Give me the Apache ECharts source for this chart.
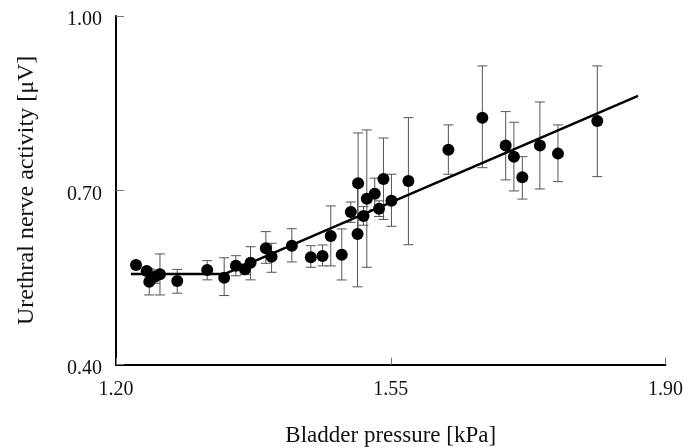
<!DOCTYPE html>
<html><head><meta charset="utf-8">
<script src="https://cdn.jsdelivr.net/npm/echarts@6/dist/echarts.min.js"></script>
<style>html,body{margin:0;padding:0;background:#fff}#c{width:699px;height:447px}</style>
</head><body><div id="c"></div>
<script>
// Bladder pressure [kPa]
var pressure = [1.2255,1.2391,1.2424,1.2496,1.2560,1.2780,1.3162,1.3378,1.3527,1.3642,1.3714,1.3909,1.3982,1.4240,1.4482,1.4631,1.4736,1.4876,1.4991,1.5084,1.5077,1.5153,1.5195,1.5296,1.5351,1.5407,1.5509,1.5725,1.6234,1.6667,1.6964,1.7069,1.7176,1.7400,1.7630,1.8131];
// Urethral nerve activity mean [uV]
var activity = [0.5716,0.5613,0.5429,0.5515,0.5556,0.5441,0.5630,0.5497,0.5704,0.5642,0.5756,0.6003,0.5859,0.6048,0.5849,0.5871,0.6215,0.5893,0.6628,0.7122,0.6248,0.6560,0.6857,0.6943,0.6685,0.7196,0.6823,0.7162,0.7700,0.8251,0.7770,0.7580,0.7225,0.7770,0.7632,0.8195];
// error bar lower / upper ends
var errLow  = [0.5666,0.5563,0.5200,0.5400,0.5200,0.5230,0.5460,0.5190,0.5530,0.5550,0.5460,0.5745,0.5590,0.5768,0.5676,0.5700,0.5700,0.5458,0.6450,0.6260,0.5340,0.6400,0.5676,0.6670,0.6550,0.6500,0.6382,0.6065,0.7277,0.7390,0.7180,0.6990,0.6850,0.7024,0.7150,0.7236];
var errHigh = [0.5766,0.5663,0.5650,0.5630,0.5906,0.5640,0.5790,0.5840,0.5876,0.5730,0.6030,0.6290,0.6090,0.6340,0.6048,0.6060,0.6732,0.6336,0.6800,0.7988,0.7160,0.6720,0.8040,0.7210,0.6820,0.7900,0.7277,0.8251,0.8126,0.9141,0.8355,0.8172,0.7580,0.8520,0.8126,0.9141];
// fitted piecewise regression line
var fitX = [1.219,1.338,1.865];
var fitY = [0.556,0.556,0.8625];
var xTicks = [1.20,1.55,1.90];
var yTicks = [0.40,0.70,1.00];

var pts = pressure.map(function(x,i){return [x,activity[i]];});
var errs = pressure.map(function(x,i){return [x,errLow[i],errHigh[i]];});
var fit = fitX.map(function(x,i){return [x,fitY[i]];});

var chart = echarts.init(document.getElementById('c'));
var font = 'Liberation Serif';
chart.setOption({
  animation:false,
  grid:{left:116,top:16,right:33.5,bottom:82.3,containLabel:false,outerBoundsMode:'none'},
  xAxis:{type:'value',min:1.2,max:1.9,
    name:'Bladder pressure [kPa]',nameLocation:'middle',nameGap:60,
    nameTextStyle:{fontFamily:font,fontSize:23,color:'#111'},
    axisLine:{lineStyle:{color:'#000',width:2}},
    axisTick:{show:true,inside:true,length:7,customValues:xTicks,lineStyle:{color:'#777',width:1}},
    axisLabel:{customValues:xTicks,margin:15,fontFamily:font,fontSize:20,color:'#111',formatter:function(v){return v.toFixed(2);}},
    splitLine:{show:false}},
  yAxis:{type:'value',min:0.4,max:1.0,
    name:'Urethral nerve activity [μV]',nameLocation:'middle',nameGap:77,
    nameTextStyle:{fontFamily:font,fontSize:24,color:'#111'},
    axisLine:{show:true,lineStyle:{color:'#000',width:2}},
    axisTick:{show:true,inside:true,length:8,customValues:yTicks,lineStyle:{color:'#777',width:1}},
    axisLabel:{customValues:yTicks,margin:14,fontFamily:font,fontSize:20,color:'#111',
      formatter:function(v){return '{a|'+v.toFixed(2)+'}';},
      rich:{a:{fontFamily:font,fontSize:20,color:'#111',padding:[8,0,0,0]}}},
    splitLine:{show:false}},
  series:[
    {type:'custom',data:errs,z:1,
      renderItem:function(params,api){
        var x=api.value(0);
        var lo=api.coord([x,api.value(1)]);
        var hi=api.coord([x,api.value(2)]);
        var w=5;
        var st={stroke:'#555',lineWidth:1,fill:null};
        return {type:'group',children:[
          {type:'line',shape:{x1:lo[0],y1:lo[1],x2:hi[0],y2:hi[1]},style:st},
          {type:'line',shape:{x1:lo[0]-w,y1:lo[1],x2:lo[0]+w,y2:lo[1]},style:st},
          {type:'line',shape:{x1:hi[0]-w,y1:hi[1],x2:hi[0]+w,y2:hi[1]},style:st}
        ]};
      }},
    {type:'line',data:fit,symbol:'none',z:2,lineStyle:{color:'#000',width:2.5}},
    {type:'scatter',data:pts,symbol:'circle',symbolSize:12,z:3,itemStyle:{color:'#000',opacity:1}}
  ]
});
</script></body></html>
